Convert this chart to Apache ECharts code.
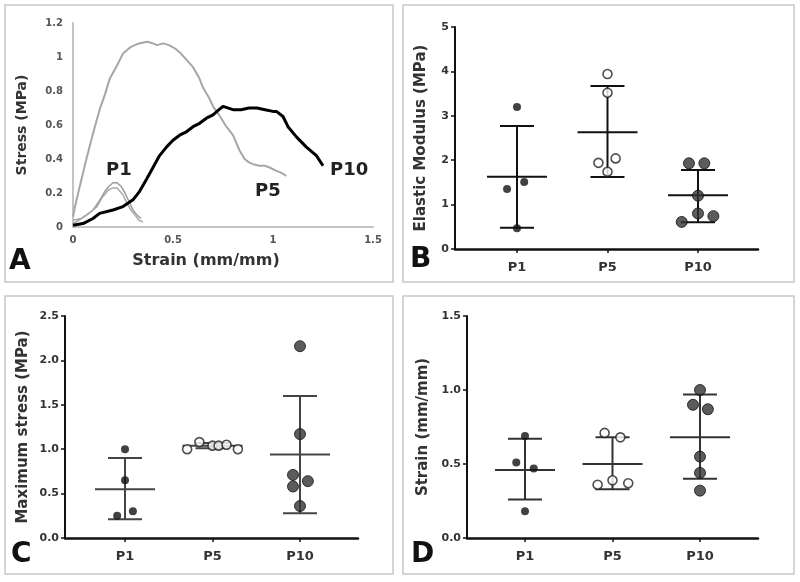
<!DOCTYPE html>
<html>
<head>
<meta charset="utf-8">
<script src="https://cdn.jsdelivr.net/npm/echarts@6/dist/echarts.min.js"></script>
<style>html,body{margin:0;padding:0;background:#fff;}#c{width:800px;height:582px;}</style>
</head>
<body>
<div id="c"></div>
<script>
// ---------- DATA ----------
const groups = ['P1', 'P5', 'P10'];

// Panel A: stress-strain curves [strain, stress]
const curveP1a = [[0,0.02],[0.03,0.04],[0.067,0.07],[0.1,0.1],[0.13,0.15],[0.16,0.21],[0.18,0.24],[0.2,0.26],[0.22,0.26],[0.24,0.24],[0.26,0.2],[0.28,0.15],[0.3,0.1],[0.32,0.07],[0.34,0.05]];
const curveP1b = [[0,0.04],[0.04,0.05],[0.08,0.08],[0.12,0.12],[0.15,0.18],[0.18,0.22],[0.2,0.23],[0.22,0.23],[0.25,0.19],[0.27,0.14],[0.29,0.1],[0.31,0.07],[0.33,0.04],[0.35,0.03]];
const curveP5 = [[0,0.06],[0.01,0.12],[0.03,0.22],[0.067,0.4],[0.1,0.55],[0.133,0.69],[0.16,0.78],[0.183,0.87],[0.22,0.95],[0.25,1.02],[0.29,1.06],[0.33,1.08],[0.37,1.09],[0.4,1.08],[0.42,1.07],[0.45,1.08],[0.48,1.07],[0.51,1.05],[0.54,1.02],[0.57,0.98],[0.6,0.94],[0.63,0.88],[0.65,0.82],[0.68,0.76],[0.7,0.71],[0.73,0.66],[0.767,0.59],[0.8,0.54],[0.833,0.45],[0.858,0.4],[0.88,0.38],[0.9,0.37],[0.93,0.36],[0.96,0.36],[0.983,0.35],[1.017,0.33],[1.04,0.32],[1.067,0.3]];
const curveP10 = [[0,0.01],[0.05,0.02],[0.1,0.05],[0.133,0.08],[0.2,0.1],[0.25,0.12],[0.3,0.16],[0.333,0.21],[0.367,0.28],[0.4,0.35],[0.433,0.42],[0.467,0.47],[0.5,0.51],[0.533,0.54],[0.567,0.56],[0.6,0.59],[0.633,0.61],[0.667,0.64],[0.7,0.66],[0.73,0.69],[0.75,0.71],[0.8,0.69],[0.84,0.69],[0.88,0.7],[0.92,0.7],[0.96,0.69],[1.0,0.68],[1.017,0.68],[1.05,0.65],[1.075,0.59],[1.117,0.53],[1.167,0.47],[1.217,0.42],[1.25,0.36]];

// Panel B: elastic modulus (MPa)
const modP1 = [3.2, 1.35, 1.51, 0.47];
const modP5 = [3.94, 3.52, 2.04, 1.94, 1.74];
const modP10 = [1.93, 1.93, 1.2, 0.8, 0.74, 0.61];
const modMean = [1.63, 2.63, 1.21];
const modUpper = [2.77, 3.67, 1.78];
const modLower = [0.48, 1.62, 0.6];

// Panel C: maximum stress (MPa)
const maxP1 = [1.0, 0.65, 0.3, 0.25];
const maxP5 = [1.0, 1.08, 1.04, 1.04, 1.05, 1.0];
const maxP10 = [2.16, 1.17, 0.71, 0.64, 0.58, 0.36];
const maxMean = [0.55, 1.04, 0.94];
const maxUpper = [0.9, 1.07, 1.6];
const maxLower = [0.21, 1.01, 0.28];

// Panel D: strain (mm/mm)
const strP1 = [0.69, 0.51, 0.47, 0.18];
const strP5 = [0.71, 0.68, 0.39, 0.36, 0.37];
const strP10 = [1.0, 0.9, 0.87, 0.55, 0.44, 0.32];
const strMean = [0.46, 0.5, 0.68];
const strUpper = [0.67, 0.68, 0.97];
const strLower = [0.26, 0.33, 0.4];

// horizontal scatter jitter (category units)
const jitB = [[0,-0.11,0.08,0],[0,0,0.09,-0.1,0],[-0.1,0.07,0,0,0.17,-0.18]];
const jitC = [[0,0,0.09,-0.09],[-0.29,-0.15,0,0.07,0.16,0.29],[0,0,-0.08,0.09,-0.08,0]];
const jitD = [[0,-0.1,0.1,0],[-0.09,0.09,0,-0.17,0.18],[0,-0.08,0.09,0,0,0]];

// ---------- CHART ----------
const FF = 'DejaVu Sans';
const chart = echarts.init(document.getElementById('c'), null, {renderer: 'canvas'});

function pts(vals, jit, gi) { return vals.map((v, i) => [gi + 1 + jit[i], v]); }
function stats(m, u, l) { return m.map((v, i) => [i + 1, v, u[i], l[i]]); }

function errSeries(idx, data, color) {
  return {
    type: 'custom', xAxisIndex: idx, yAxisIndex: idx, z: 2,
    data: data,
    encode: {x: 0, y: [1, 2, 3]},
    renderItem: function (params, api) {
      const x = api.value(0);
      const pm = api.coord([x, api.value(1)]);
      const pu = api.coord([x, api.value(2)]);
      const pl = api.coord([x, api.value(3)]);
      const st = {stroke: color, lineWidth: 2};
      return {type: 'group', children: [
        {type: 'line', shape: {x1: pu[0], y1: pu[1], x2: pl[0], y2: pl[1]}, style: st},
        {type: 'line', shape: {x1: pu[0] - 17, y1: pu[1], x2: pu[0] + 17, y2: pu[1]}, style: st},
        {type: 'line', shape: {x1: pl[0] - 17, y1: pl[1], x2: pl[0] + 17, y2: pl[1]}, style: st},
        {type: 'line', shape: {x1: pm[0] - 30, y1: pm[1], x2: pm[0] + 30, y2: pm[1]}, style: st}
      ]};
    }
  };
}

function scat(idx, data, kind) {
  let s = {type: 'scatter', xAxisIndex: idx, yAxisIndex: idx, z: 5, data: data, symbol: 'circle'};
  if (kind === 'small') { s.symbolSize = 8; s.itemStyle = {color: '#111'}; }
  else if (kind === 'open') { s.symbolSize = 9; s.itemStyle = {color: '#fff', borderColor: '#222', borderWidth: 1.6}; }
  else { s.symbolSize = 11; s.itemStyle = {color: '#333', borderColor: '#111', borderWidth: 1}; }
  return s;
}

function catX(idx, min, max) {
  return {
    type: 'value', gridIndex: idx, min: min, max: max,
    splitLine: {show: false},
    axisLine: {show: true, lineStyle: {color: '#111', width: 2.5}},
    axisTick: {show: true, customValues: [1, 2, 3], length: 4, lineStyle: {color: '#111', width: 1.5}},
    axisLabel: {show: true, customValues: [1, 2, 3], margin: 12,
      formatter: v => groups[Math.round(v) - 1],
      fontFamily: FF, fontWeight: 'bold', fontSize: 13, color: '#333'}
  };
}

function valY(idx, min, max, interval, name, gap, fs, dec) {
  return {
    type: 'value', gridIndex: idx, min: min, max: max, interval: interval,
    splitLine: {show: false},
    axisLine: {show: true, lineStyle: {color: '#111', width: 2}},
    axisTick: {show: true, length: 4, lineStyle: {color: '#111', width: 1.5}},
    axisLabel: {margin: 6, fontFamily: FF, fontWeight: 'bold', fontSize: 11, color: '#333',
      formatter: v => dec ? v.toFixed(1) : String(v)},
    name: name, nameLocation: 'middle', nameRotate: 90, nameGap: gap,
    nameTextStyle: {fontFamily: FF, fontWeight: 'bold', fontSize: fs, color: '#333'}
  };
}

const option = {
  animation: false,
  backgroundColor: '#fff',
  grid: [
    {left: 73, top: 23, width: 300, height: 204},
    {left: 455, top: 27, width: 303, height: 222},
    {left: 65, top: 316, width: 293, height: 222},
    {left: 467, top: 316, width: 291, height: 222}
  ],
  xAxis: [
    {type: 'value', gridIndex: 0, min: 0, max: 1.5, interval: 0.5,
      splitLine: {show: false},
      axisLine: {show: true, lineStyle: {color: '#c4c4c4', width: 2}},
      axisTick: {show: false},
      axisLabel: {margin: 8, fontFamily: FF, fontSize: 10, fontWeight: 'bold', color: '#555'},
      name: 'Strain (mm/mm)', nameLocation: 'middle', nameGap: 26,
      nameTextStyle: {fontFamily: FF, fontWeight: 'bold', fontSize: 16, color: '#333', padding: [0, 34, 0, 0]}},
    catX(1, 0.315, 3.663),
    catX(2, 0.314, 3.663),
    catX(3, 0.337, 3.663)
  ],
  yAxis: [
    {type: 'value', gridIndex: 0, min: 0, max: 1.2, interval: 0.2,
      splitLine: {show: false},
      axisLine: {show: true, lineStyle: {color: '#c4c4c4', width: 2}},
      axisTick: {show: false},
      axisLabel: {margin: 10, fontFamily: FF, fontSize: 10, fontWeight: 'bold', color: '#555'},
      name: 'Stress (MPa)', nameLocation: 'middle', nameRotate: 90, nameGap: 44,
      nameTextStyle: {fontFamily: FF, fontWeight: 'bold', fontSize: 14, color: '#333'}},
    valY(1, 0, 5, 1, 'Elastic Modulus (MPa)', 26, 15, false),
    valY(2, 0, 2.5, 0.5, 'Maximum stress (MPa)', 34, 15, true),
    valY(3, 0, 1.5, 0.5, 'Strain (mm/mm)', 36, 15, true)
  ],
  series: [
    {type: 'line', xAxisIndex: 0, yAxisIndex: 0, data: curveP1a, showSymbol: false, lineStyle: {color: '#9a9a9a', width: 1.5}},
    {type: 'line', xAxisIndex: 0, yAxisIndex: 0, data: curveP1b, showSymbol: false, lineStyle: {color: '#aaaaaa', width: 1.5}},
    {type: 'line', xAxisIndex: 0, yAxisIndex: 0, data: curveP5, showSymbol: false, lineStyle: {color: '#a6a6a6', width: 2}},
    {type: 'line', xAxisIndex: 0, yAxisIndex: 0, data: curveP10, showSymbol: false, lineStyle: {color: '#000', width: 3}},

    errSeries(1, stats(modMean, modUpper, modLower), '#111'),
    scat(1, pts(modP1, jitB[0], 0), 'small'),
    scat(1, pts(modP5, jitB[1], 1), 'open'),
    scat(1, pts(modP10, jitB[2], 2), 'big'),

    errSeries(2, stats(maxMean, maxUpper, maxLower), '#444'),
    scat(2, pts(maxP1, jitC[0], 0), 'small'),
    scat(2, pts(maxP5, jitC[1], 1), 'open'),
    scat(2, pts(maxP10, jitC[2], 2), 'big'),

    errSeries(3, stats(strMean, strUpper, strLower), '#333'),
    scat(3, pts(strP1, jitD[0], 0), 'small'),
    scat(3, pts(strP5, jitD[1], 1), 'open'),
    scat(3, pts(strP10, jitD[2], 2), 'big')
  ],
  graphic: [
    {type: 'rect', shape: {x: 5, y: 5, width: 388, height: 277}, style: {fill: 'none', stroke: '#c8c8c8', lineWidth: 1.5}, z: -1},
    {type: 'rect', shape: {x: 403, y: 5, width: 391, height: 277}, style: {fill: 'none', stroke: '#c8c8c8', lineWidth: 1.5}, z: -1},
    {type: 'rect', shape: {x: 5, y: 296, width: 388, height: 278}, style: {fill: 'none', stroke: '#c8c8c8', lineWidth: 1.5}, z: -1},
    {type: 'rect', shape: {x: 403, y: 296, width: 391, height: 278}, style: {fill: 'none', stroke: '#c8c8c8', lineWidth: 1.5}, z: -1},
    {type: 'text', left: 9, top: 248, style: {text: 'A', font: 'bold 28px "DejaVu Sans"', fill: '#111'}},
    {type: 'text', left: 410, top: 246, style: {text: 'B', font: 'bold 28px "DejaVu Sans"', fill: '#111'}},
    {type: 'text', left: 11, top: 541, style: {text: 'C', font: 'bold 28px "DejaVu Sans"', fill: '#111'}},
    {type: 'text', left: 411, top: 541, style: {text: 'D', font: 'bold 28px "DejaVu Sans"', fill: '#111'}},
    {type: 'text', left: 106, top: 161, style: {text: 'P1', font: 'bold 18px "DejaVu Sans"', fill: '#222'}},
    {type: 'text', left: 255, top: 182, style: {text: 'P5', font: 'bold 18px "DejaVu Sans"', fill: '#222'}},
    {type: 'text', left: 330, top: 161, style: {text: 'P10', font: 'bold 18px "DejaVu Sans"', fill: '#222'}}
  ]
};
chart.setOption(option);
</script>
</body>
</html>
